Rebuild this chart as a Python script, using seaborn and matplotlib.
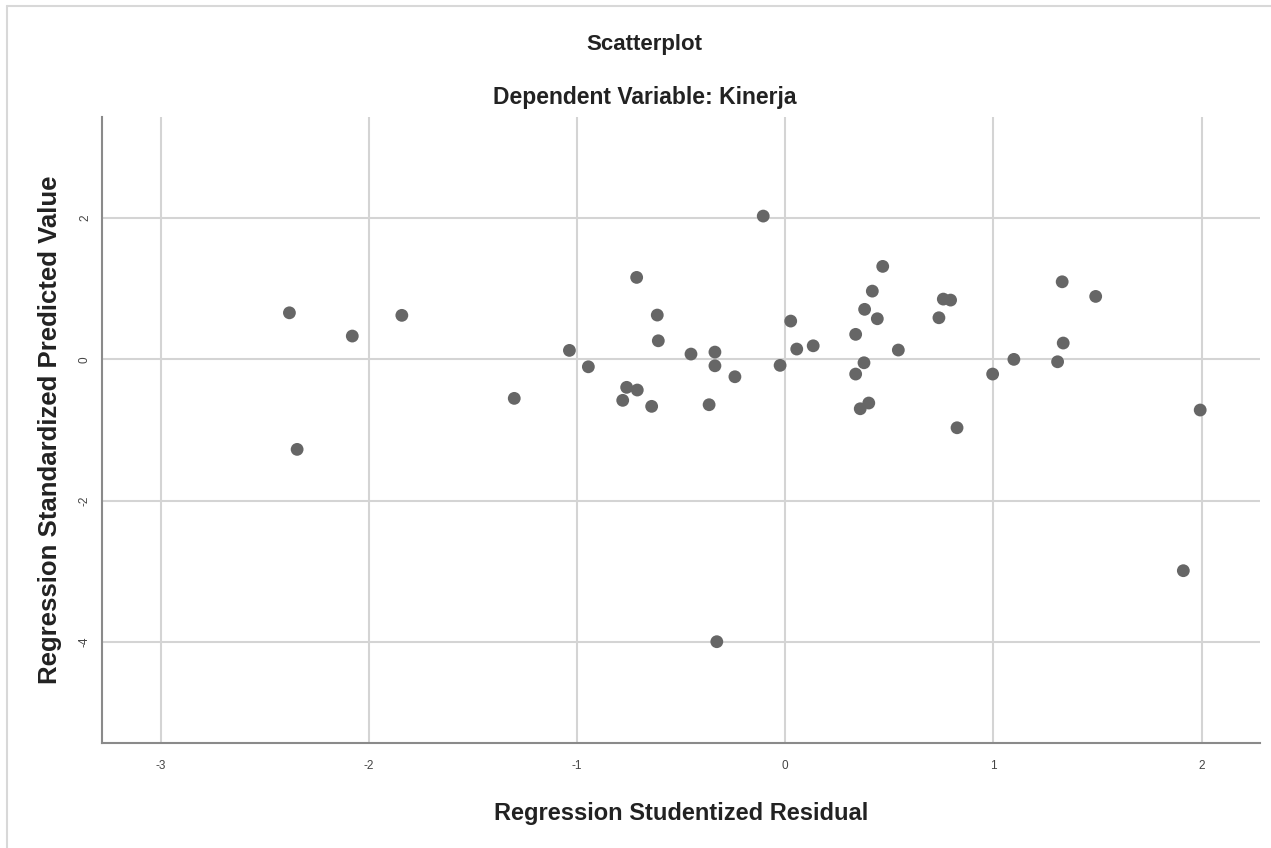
import numpy as np
import pandas as pd
import matplotlib
matplotlib.use("Agg")
import matplotlib.pyplot as plt
import seaborn as sns

# residual vs predicted values
resid = [-2.382, -2.080, -1.842, -1.302, -2.345, -0.106, -0.714, -0.615, -0.610,
         -1.037, -0.946, -0.762, -0.711, -0.781, -0.642, -0.453, -0.338, -0.338,
         -0.242, -0.366, -0.025, 0.026, 0.055, 0.134, 0.468, 0.418, 0.381, 0.442,
         0.338, 0.543, 0.378, 0.338, 0.401, 0.360, 0.759, 0.794, 0.738, 0.825,
         0.996, 1.098, 1.308, 1.335, 1.330, 1.491, 1.993, 1.912, -0.329]
pred = [0.659, 0.330, 0.623, -0.552, -1.274, 2.028, 1.160, 0.627, 0.263,
        0.127, -0.105, -0.396, -0.434, -0.580, -0.665, 0.075, 0.103, -0.091,
        -0.246, -0.642, -0.085, 0.542, 0.146, 0.192, 1.316, 0.966, 0.708, 0.575,
        0.354, 0.132, -0.048, -0.208, -0.618, -0.699, 0.853, 0.839, 0.589, -0.968,
        -0.208, 0.000, -0.034, 0.231, 1.098, 0.891, -0.717, -2.991, -3.996]
xticks = [-3, -2, -1, 0, 1, 2]
yticks = [-4, -2, 0, 2]

df = pd.DataFrame({"resid": resid, "pred": pred})

sns.set_style("white")
plt.rcParams['font.family'] = ['Liberation Sans', 'DejaVu Sans']

fig = plt.figure(figsize=(12.71, 8.48), dpi=100)
ax = fig.add_axes([0.0803, 0.1238, 0.9110, 0.7382])

sns.scatterplot(x="resid", y="pred", data=df, ax=ax, color="#666666",
                edgecolor="none", s=85, zorder=3)

ax.set_xlim(-3.282, 2.28)
ax.set_ylim(-5.43, 3.43)
ax.set_xticks(xticks)
ax.set_yticks(yticks)
ax.set_xticklabels([str(t) for t in xticks], fontsize=8.5, color="#444444")
ax.set_yticklabels([str(t) for t in yticks], fontsize=8.5, color="#444444",
                   rotation=90, va="center")
ax.tick_params(axis="x", length=0, pad=12)
ax.tick_params(axis="y", length=0, pad=8)
ax.grid(True, color="#d4d4d4", linewidth=1.5, zorder=0)
ax.set_axisbelow(True)

for side in ["top", "right"]:
    ax.spines[side].set_visible(False)
for side in ["left", "bottom"]:
    ax.spines[side].set_color("#8a8a8a")
    ax.spines[side].set_linewidth(1.5)

ax.set_xlabel("Regression Studentized Residual", fontsize=17, fontweight="bold",
              color="#222222", labelpad=22)
ax.set_ylabel("Regression Standardized Predicted Value", fontsize=18.5,
              fontweight="bold", color="#222222", labelpad=12)

fig.text(0.507, 0.947, "Scatterplot", ha="center", va="center", fontsize=16,
         fontweight="bold", color="#222222")
fig.text(0.507, 0.885, "Dependent Variable: Kinerja", ha="center", va="center",
         fontsize=16.5, fontweight="bold", color="#222222")

# light frame of the SPSS output window
fig.add_artist(plt.Line2D([0.0055, 0.0055], [0, 0.993], transform=fig.transFigure,
                          color="#d8d8d8", linewidth=1.5))
fig.add_artist(plt.Line2D([0.0055, 1], [0.993, 0.993], transform=fig.transFigure,
                          color="#d8d8d8", linewidth=1.5))

fig.savefig("out.png", dpi=100)
